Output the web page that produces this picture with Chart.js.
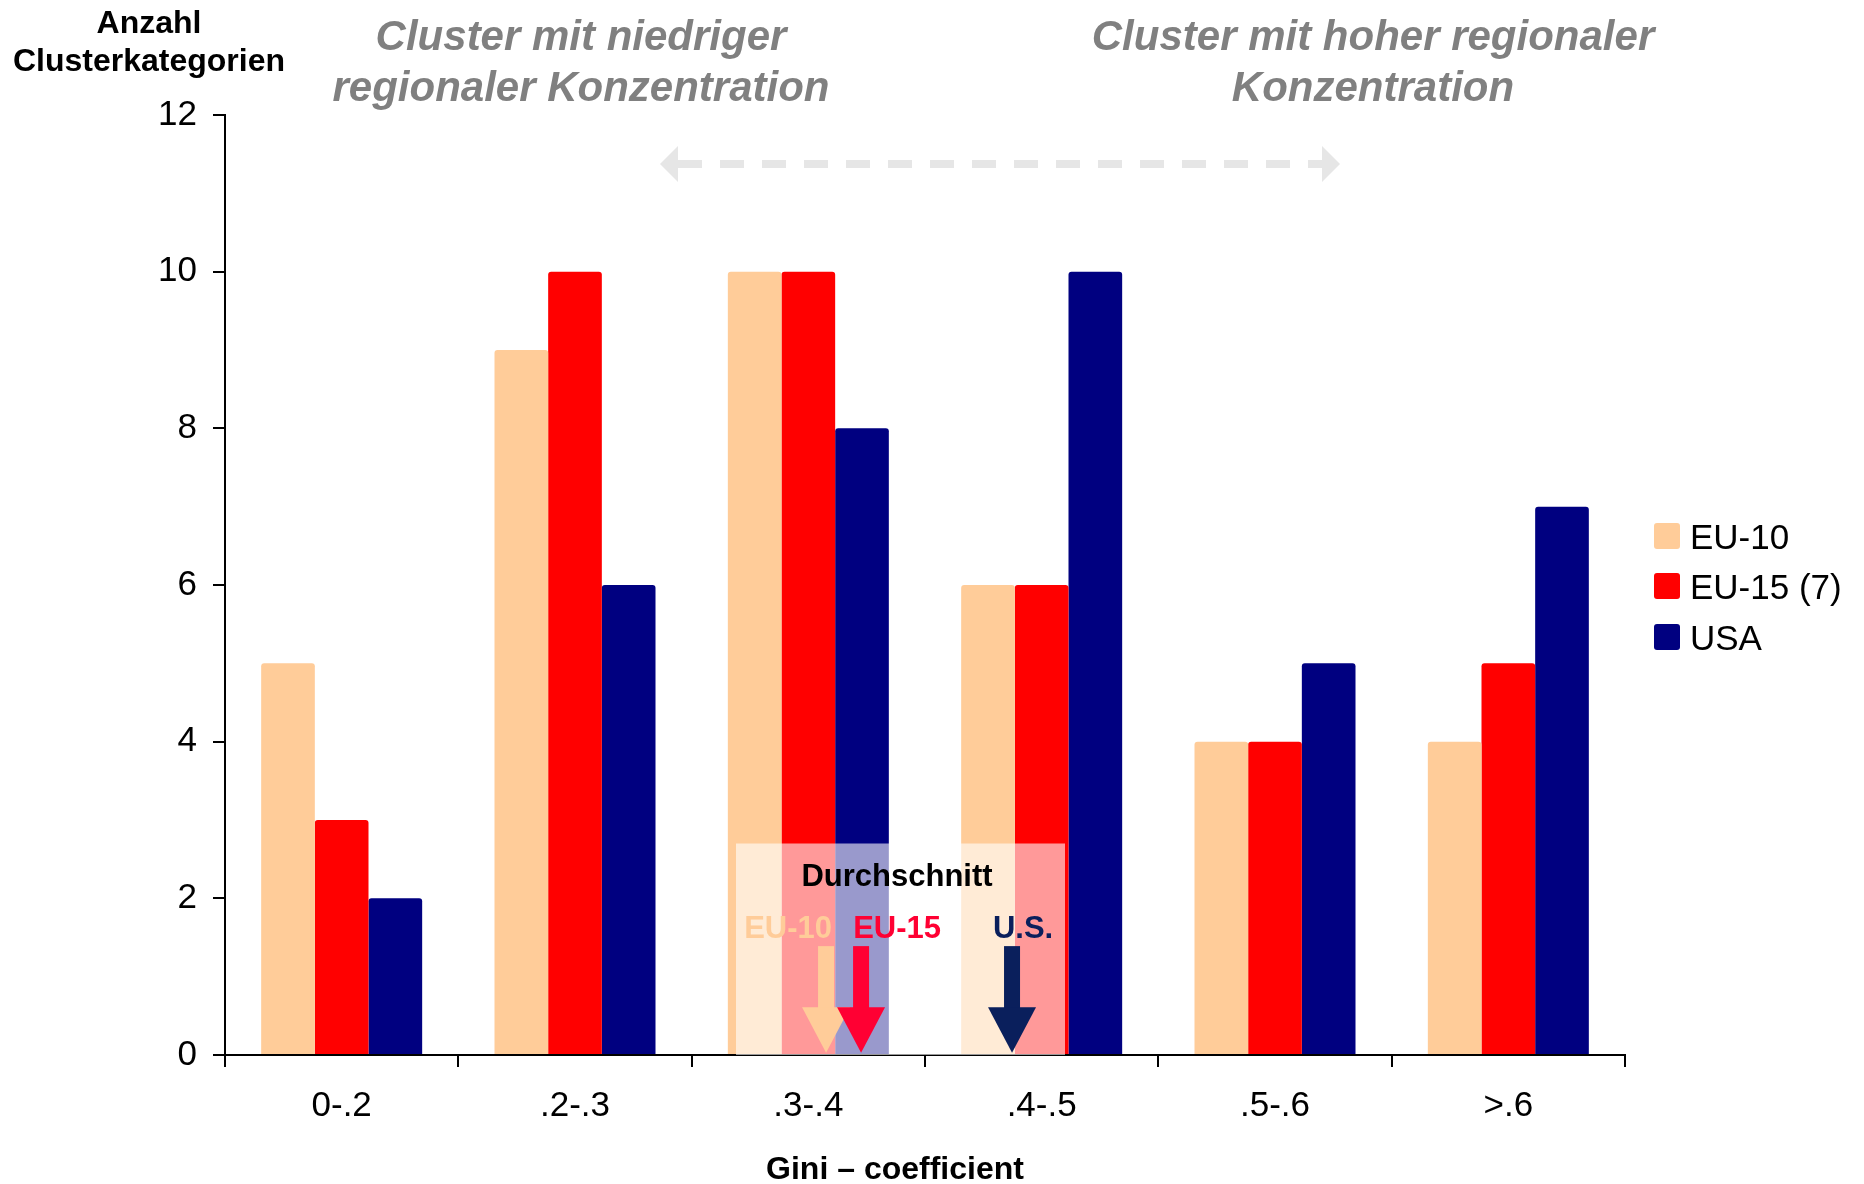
<!DOCTYPE html>
<html><head><meta charset="utf-8">
<script src="https://cdn.jsdelivr.net/npm/chart.js@4.4.1/dist/chart.umd.min.js"></script>
<style>html,body{margin:0;padding:0;background:#fff;}#wrap{width:1864px;height:1184px;}</style>
</head><body><div id="wrap"><canvas id="c" width="1864" height="1184"></canvas></div>
<script>
// ---- data ----
const categories = ['0-.2', '.2-.3', '.3-.4', '.4-.5', '.5-.6', '>.6'];
const seriesNames = ['EU-10', 'EU-15 (7)', 'USA'];
const eu10Values = [5, 9, 10, 6, 4, 4];
const eu15Values = [3, 10, 10, 6, 4, 5];
const usaValues = [2, 6, 8, 10, 5, 7];
const yTickValues = [0, 2, 4, 6, 8, 10, 12];
const averageLabels = ['EU-10', 'EU-15', 'U.S.'];
const averagePositions = [2.076, 2.226, 2.873]; // Gini average, in category-index units
const topLeftNote = ['Cluster mit niedriger', 'regionaler Konzentration'];
const topRightNote = ['Cluster mit hoher regionaler', 'Konzentration'];
const yTitle = ['Anzahl', 'Clusterkategorien'];
const xTitle = 'Gini \u2013 coefficient';
const boxTitle = 'Durchschnitt';

const FONT = '"Liberation Sans", Arial, Helvetica, sans-serif';
const colors = ['#ffcc99', '#ff0000', '#000080'];
const arrowColors = ['#ffcc99', '#ff0033', '#0a1f5c'];

const annot = {
  id: 'annot',
  afterDatasetsDraw(chart) {
    const ctx = chart.ctx, x = chart.scales.x, y = chart.scales.y;
    // translucent box
    const x0 = x.getPixelForValue(1.69), x1 = x.getPixelForValue(3.1);
    const yt = y.getPixelForValue(2.7), yb = y.getPixelForValue(0);
    ctx.save();
    ctx.fillStyle = 'rgba(255,255,255,0.6)';
    ctx.fillRect(x0, yt, x1 - x0, yb - yt);
    ctx.restore();
  },
  afterDraw(chart) {
    const ctx = chart.ctx, x = chart.scales.x, y = chart.scales.y;
    ctx.save();
    ctx.textAlign = 'center';
    ctx.textBaseline = 'middle';
    // y title
    ctx.fillStyle = '#000';
    ctx.font = 'bold 32px ' + FONT;
    ctx.fillText(yTitle[0], 149, 24);
    ctx.fillText(yTitle[1], 149, 62);
    // x title
    ctx.fillText(xTitle, 895, 1170);
    // top notes
    ctx.fillStyle = '#808080';
    ctx.font = 'italic bold 42px ' + FONT;
    ctx.fillText(topLeftNote[0], 581, 38);
    ctx.fillText(topLeftNote[1], 581, 89);
    ctx.fillText(topRightNote[0], 1373, 38);
    ctx.fillText(topRightNote[1], 1373, 89);
    // dashed double arrow
    ctx.fillStyle = '#e6e6e6';
    ctx.strokeStyle = '#e6e6e6';
    ctx.lineWidth = 8;
    ctx.setLineDash([24, 18]);
    ctx.beginPath();
    ctx.moveTo(678, 164); ctx.lineTo(1322, 164);
    ctx.stroke();
    ctx.setLineDash([]);
    ctx.beginPath();
    ctx.moveTo(660, 164); ctx.lineTo(678, 146); ctx.lineTo(678, 182); ctx.closePath(); ctx.fill();
    ctx.beginPath();
    ctx.moveTo(1340, 164); ctx.lineTo(1322, 146); ctx.lineTo(1322, 182); ctx.closePath(); ctx.fill();
    // box title
    ctx.fillStyle = '#000';
    ctx.font = 'bold 31px ' + FONT;
    ctx.fillText(boxTitle, x.getPixelForValue(2.38), y.getPixelForValue(2.27));
    // average arrows
    const labelDx = [-38, 36, 11];
    const yLab = y.getPixelForValue(1.6);
    const yShaft = y.getPixelForValue(1.39);
    const yHead = y.getPixelForValue(0.61);
    const yTip = y.getPixelForValue(0.03);
    averagePositions.forEach((p, i) => {
      const cx = x.getPixelForValue(p);
      ctx.fillStyle = arrowColors[i];
      ctx.fillRect(cx - 8, yShaft, 16, yHead - yShaft + 1);
      ctx.beginPath();
      ctx.moveTo(cx - 24, yHead); ctx.lineTo(cx + 24, yHead); ctx.lineTo(cx, yTip); ctx.closePath(); ctx.fill();
      ctx.fillText(averageLabels[i], cx + labelDx[i], yLab);
    });
    // legend
    ctx.textAlign = 'left';
    ctx.font = '35px ' + FONT;
    const rows = [536, 586, 637];
    chart.data.datasets.forEach((ds, i) => {
      ctx.fillStyle = ds.backgroundColor;
      ctx.beginPath();
      ctx.roundRect(1654, rows[i] - 13, 26, 26, 3);
      ctx.fill();
      ctx.fillStyle = '#000';
      ctx.fillText(ds.label, 1690, rows[i] + 3);
    });
    ctx.restore();
  }
};

new Chart(document.getElementById('c'), {
  type: 'bar',
  data: {
    labels: categories,
    datasets: [
      { label: seriesNames[0], data: eu10Values, backgroundColor: colors[0] },
      { label: seriesNames[1], data: eu15Values, backgroundColor: colors[1] },
      { label: seriesNames[2], data: usaValues, backgroundColor: colors[2] }
    ]
  },
  options: {
    responsive: false,
    animation: false,
    devicePixelRatio: 1,
    layout: { padding: { top: 115, right: 239, left: 0, bottom: 0 } },
    datasets: { bar: { barPercentage: 1, categoryPercentage: 0.69, borderRadius: { topLeft: 3, topRight: 3 }, borderSkipped: 'start' } },
    plugins: { legend: { display: false }, tooltip: { enabled: false } },
    scales: {
      x: {
        z: 1,
        grid: { offset: true, drawOnChartArea: false, drawTicks: true, tickLength: 12, color: '#000', lineWidth: 2 },
        border: { display: true, color: '#000', width: 2 },
        ticks: { color: '#000', font: { family: FONT, size: 35 }, padding: 18 },
        afterFit: s => { s.height = 129; }
      },
      y: {
        z: 1,
        min: 0, max: 12,
        afterBuildTicks: s => { s.ticks = yTickValues.map(v => ({ value: v })); },
        grid: { drawOnChartArea: false, drawTicks: true, tickLength: 12, color: '#000', lineWidth: 2 },
        border: { display: true, color: '#000', width: 2 },
        ticks: { color: '#000', font: { family: FONT, size: 35 }, padding: 16 },
        afterFit: s => { s.width = 225; }
      }
    }
  },
  plugins: [annot]
});
</script>
</body></html>
